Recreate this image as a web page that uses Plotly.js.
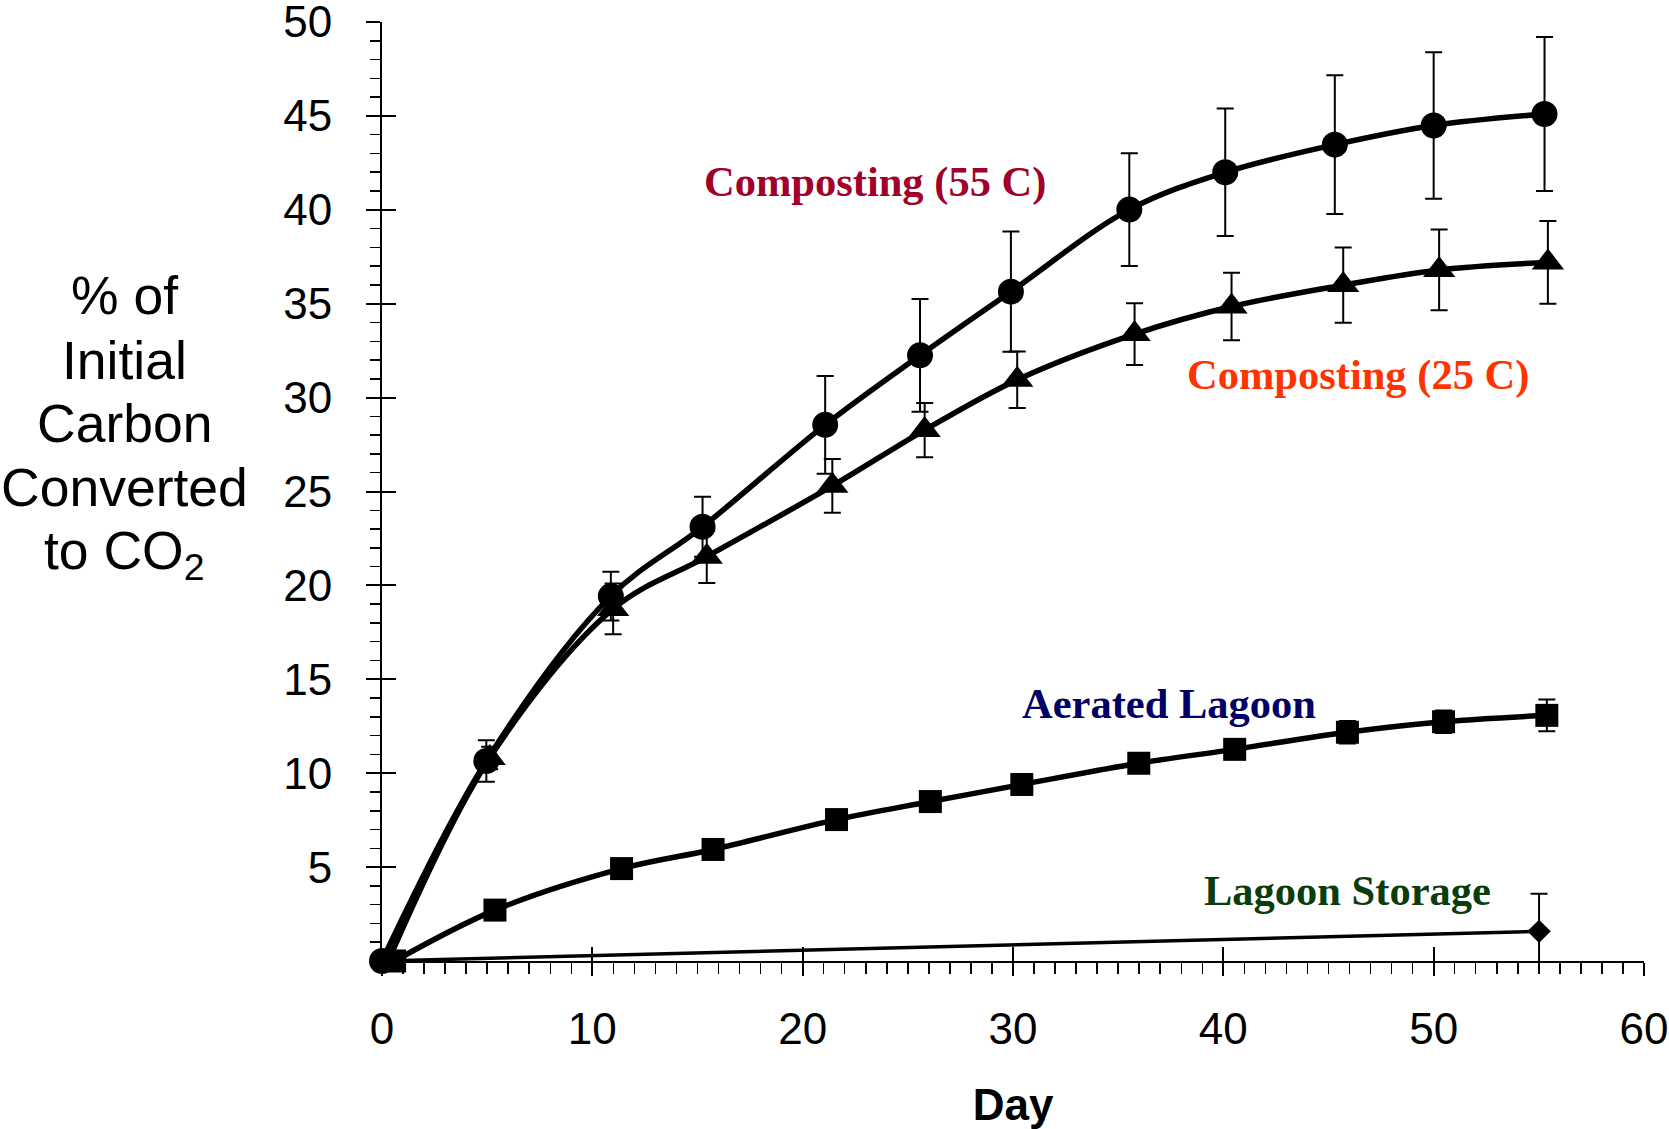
<!DOCTYPE html>
<html>
<head>
<meta charset="utf-8">
<script src="https://cdn.plot.ly/plotly-3.0.1.min.js"></script>
<style>
html,body{margin:0;padding:0;background:#fff;}
#chart{width:1669px;height:1129px;}
</style>
</head>
<body>
<div id="chart"></div>
<script>
// ---- data ----
const days55 = [0, 4.96, 10.88, 15.24, 21.07, 25.58, 29.9, 35.53, 40.09, 45.3, 50.0, 55.27];
const co2_55 = [0, 10.65, 19.43, 23.12, 28.55, 32.25, 35.64, 40.01, 42.0, 43.47, 44.49, 45.1];
const err55  = [0, 1.1, 1.3, 1.6, 2.6, 3.0, 3.2, 3.0, 3.4, 3.7, 3.9, 4.1];

const days25 = [0.3, 5.12, 10.99, 15.44, 21.41, 25.8, 30.2, 35.78, 40.39, 45.7, 50.26, 55.43];
const co2_25 = [0, 10.81, 18.75, 21.53, 25.3, 28.27, 30.95, 33.38, 34.85, 35.99, 36.8, 37.2];
const err25  = [0, 0.6, 1.35, 1.4, 1.43, 1.44, 1.5, 1.65, 1.8, 2.0, 2.15, 2.2];

const daysAer = [0.6, 5.37, 11.39, 15.74, 21.61, 26.07, 30.42, 35.98, 40.54, 45.9, 50.47, 55.38];
const co2Aer  = [0, 2.71, 4.92, 5.94, 7.53, 8.49, 9.4, 10.53, 11.27, 12.18, 12.74, 13.08];
const errAer  = [0, 0.2, 0.2, 0.25, 0.3, 0.3, 0.35, 0.4, 0.45, 0.6, 0.6, 0.85];

const daysSto = [0, 55.01];
const co2Sto  = [0, 1.58];
const errSto  = [0, 2.0];

const seriesNames = ['Composting (55 C)', 'Composting (25 C)', 'Aerated Lagoon', 'Lagoon Storage'];
const xTickVals = [0, 10, 20, 30, 40, 50, 60];
const yTickVals = [5, 10, 15, 20, 25, 30, 35, 40, 45, 50];
const yTitleLines = ['% of', 'Initial', 'Carbon', 'Converted', 'to CO<sub>2</sub>'];

// ---- styling ----
const errStyle = (arr) => ({type:'data', array:arr, visible:true, color:'#000', thickness:2, width:8.5});
const serif = 'Liberation Serif, Times New Roman, serif';
const sans = 'Liberation Sans, Arial, sans-serif';

const traces = [
  {x: daysSto, y: co2Sto, mode:'lines+markers', name: seriesNames[3],
   line:{color:'#000', width:3.5, shape:'linear'},
   marker:{symbol:'diamond', size:18, color:'#000'},
   error_y: errStyle(errSto), cliponaxis:false},
  {x: daysAer, y: co2Aer, mode:'lines+markers', name: seriesNames[2],
   line:{color:'#000', width:5.5, shape:'spline', smoothing:1},
   marker:{symbol:'square', size:23, color:'#000'},
   error_y: errStyle(errAer), cliponaxis:false},
  {x: days25, y: co2_25, mode:'lines+markers', name: seriesNames[1],
   line:{color:'#000', width:5.5, shape:'spline', smoothing:1},
   marker:{symbol:'triangle-up', size:28, color:'#000'},
   error_y: errStyle(err25), cliponaxis:false},
  {x: days55, y: co2_55, mode:'lines+markers', name: seriesNames[0],
   line:{color:'#000', width:5.5, shape:'spline', smoothing:1},
   marker:{symbol:'circle', size:26, color:'#000'},
   error_y: errStyle(err55), cliponaxis:false},
  // empty trace so the overlay tick axes (inside halves of major ticks) exist
  {x: [], y: [], xaxis:'x2', yaxis:'y2', mode:'markers', hoverinfo:'skip', showlegend:false}
];

const labelColors = ['#A0002A', '#FF3300', '#000066', '#0A3D0A'];
const labelPos = [[23.44, 41.5], [46.4, 31.2], [37.4, 13.7], [45.9, 3.75]];
const annotations = seriesNames.map((n, i) => ({
  text: '<b>' + n + '</b>', x: labelPos[i][0], y: labelPos[i][1], xref:'x', yref:'y',
  showarrow:false, xanchor:'center', yanchor:'middle',
  font:{family: serif, size:42.5, color: labelColors[i]}
}));
const yTitleY = [0.7087, 0.6400, 0.5724, 0.5043, 0.4334];
yTitleLines.forEach((t, i) => annotations.push({
  text: t, x: -0.2044, y: yTitleY[i], xref:'paper', yref:'paper',
  showarrow:false, xanchor:'center', yanchor:'middle',
  font:{family: sans, size:53.5, color:'#000'}
}));

const layout = {
  width:1669, height:1129,
  margin:{l:382, r:25, t:22, b:168},
  paper_bgcolor:'#fff', plot_bgcolor:'#fff',
  showlegend:false,
  font:{family: sans, color:'#000'},
  xaxis:{
    range:[0,60], tickmode:'array', tickvals: xTickVals,
    ticks:'outside', ticklen:13, tickwidth:2, tickcolor:'#000',
    minor:{tickmode:'linear', tick0:0, dtick:1, ticks:'outside', ticklen:11, tickwidth:1.5, tickcolor:'#000'},
    showline:true, linewidth:2, linecolor:'#000', showgrid:false, zeroline:false,
    tickfont:{family: sans, size:44, color:'#000'}, ticklabelstandoff:15, ticklabeloverflow:'allow',
    title:{text:'<b>Day</b>', font:{family: sans, size:44, color:'#000'}, standoff:44},
    automargin:false
  },
  yaxis:{
    range:[0,50.0001], tickmode:'array', tickvals: yTickVals,
    ticks:'outside', ticklen:14, tickwidth:2, tickcolor:'#000',
    minor:{tickmode:'linear', tick0:0, dtick:1, ticks:'outside', ticklen:10, tickwidth:1.5, tickcolor:'#000'},
    showline:true, linewidth:2, linecolor:'#000', showgrid:false, zeroline:false,
    tickfont:{family: sans, size:44, color:'#000'}, ticklabelstandoff:25, ticklabeloverflow:'allow',
    automargin:false
  },
  xaxis2:{
    overlaying:'x', anchor:'y', side:'bottom', range:[0,60],
    tickmode:'array', tickvals: xTickVals, ticks:'inside', ticklen:14, tickwidth:2, tickcolor:'#000',
    showticklabels:false, showline:false, showgrid:false, zeroline:false
  },
  yaxis2:{
    overlaying:'y', anchor:'x', side:'left', range:[0,50.0001],
    tickmode:'array', tickvals: yTickVals, ticks:'inside', ticklen:14, tickwidth:2, tickcolor:'#000',
    showticklabels:false, showline:false, showgrid:false, zeroline:false
  },
  annotations: annotations
};

Plotly.newPlot('chart', traces, layout, {displayModeBar:false, staticPlot:true});
</script>
</body>
</html>
